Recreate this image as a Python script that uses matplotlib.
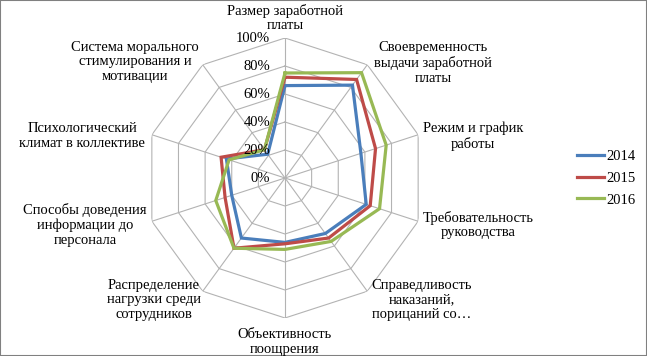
import numpy as np
import matplotlib
matplotlib.use("Agg")
import matplotlib.pyplot as plt
from matplotlib.patches import Rectangle
from matplotlib.transforms import offset_copy

plt.rcParams["font.family"] = ["Liberation Serif", "DejaVu Serif"]

# категории по часовой стрелке, начиная сверху
categories = [
    "Размер заработной\nплаты",
    "Своевременность\nвыдачи заработной\nплаты",
    "Режим и график\nработы",
    "Требовательность\nруководства",
    "Справедливость\nнаказаний,\nпорицаний со…",
    "Объективность\nпоощрения",
    "Распределение\nнагрузки среди\nсотрудников",
    "Способы доведения\nинформации до\nперсонала",
    "Психологический\nклимат в коллективе",
    "Система морального\nстимулирования и\nмотивации",
]
years = ["2014", "2015", "2016"]
v2014 = [66, 82, 57, 61, 49, 46, 53, 40, 44, 21]
v2015 = [72, 87, 68, 64, 53, 47, 62, 45, 48, 25]
v2016 = [75, 93, 76, 71, 56, 51, 62, 52, 42, 25]
r_ticks = [0, 20, 40, 60, 80, 100]

colors = ["#4A7EBB", "#BE4B48", "#98B954"]
grid_c = "#b3b3b3"

W, H = 647, 356
fig = plt.figure(figsize=(W / 100, H / 100), dpi=100)

# центр диаграммы ~ (285, 178) px, радиус ~140 px
cx, cy, R = 285, 178, 140
ax = fig.add_axes([(cx - R) / W, 1 - (cy + R) / H, 2 * R / W, 2 * R / H], projection="polar")
ax.set_theta_offset(np.pi / 2)
ax.set_theta_direction(-1)
ax.set_ylim(0, 100)
ax.grid(False)
ax.set_xticks([])
ax.set_yticks([])
ax.spines["polar"].set_visible(False)
ax.patch.set_alpha(0)

n = len(categories)
theta = np.linspace(0, 2 * np.pi, n, endpoint=False)
theta_c = np.append(theta, theta[0])

# многоугольная сетка
for r in r_ticks[1:]:
    ax.plot(theta_c, [r] * (n + 1), color=grid_c, lw=0.8, zorder=1)
for t in theta:
    ax.plot([t, t], [0, 100], color=grid_c, lw=0.8, zorder=1)

for vals, lab, c in zip([v2014, v2015, v2016], years, colors):
    ax.plot(theta_c, vals + vals[:1], color=c, lw=2.3, label=lab, zorder=3,
            solid_joinstyle="miter")

# подписи шкалы слева от вертикальной оси
tr = offset_copy(ax.transData, fig=fig, x=-15 * 0.72, y=0, units="points")
for r in r_ticks:
    ax.text(0, r, f"{r}%", transform=tr, ha="right", va="center", fontsize=10.5,
            zorder=4)

# подписи категорий (позиции в пикселях)
label_xy = [(285, 18), (433, 63), (473, 136), (478, 225), (422, 300),
            (285, 342), (154, 300), (85, 225), (82, 136), (135, 62)]
for text, (x, y) in zip(categories, label_xy):
    fig.text(x / W, 1 - y / H, text, ha="center", va="center", fontsize=10.5,
             linespacing=1.15)

fig.legend(loc="center left", bbox_to_anchor=(570 / W, 0.5), frameon=False,
           fontsize=10.5, handlelength=1.8, handletextpad=0.2, labelspacing=0.6,
           borderpad=0)

fig.patches.append(Rectangle((0, 0), 1, 1, transform=fig.transFigure, fill=False,
                             edgecolor="#808080", lw=1.5))

fig.savefig("out.png", dpi=100)
